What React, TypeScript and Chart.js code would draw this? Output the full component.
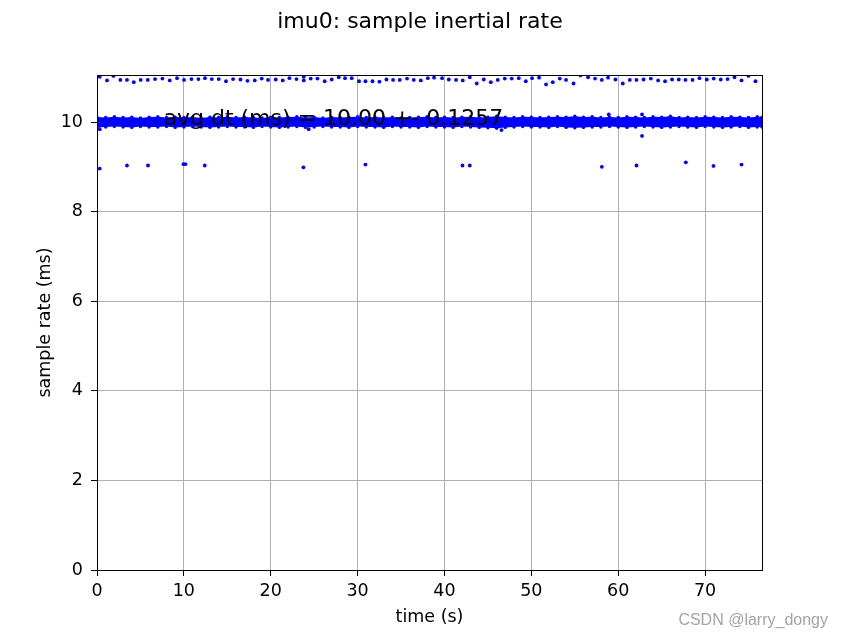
import React, { useEffect, useRef } from "react";
import { Chart, registerables } from "chart.js";

Chart.register(...registerables);

// ---- Data ----
const chartTitle = "imu0: sample inertial rate";
const xLabel = "time (s)";
const yLabel = "sample rate (ms)";
const annotationText = "avg dt (ms) = 10.00 +- 0.1257";
const annotationPos = { x: 7.65, y: 9.93 };
const watermark = "CSDN @larry_dongy";

const xMax = 76.55;
const yMax = 11.05;

// dense band of samples around 10 ms (upper / lower envelope)
const bandTimes = [
  0, 1, 2, 3, 4, 5, 6, 7, 8, 9, 10, 11, 12, 13, 14, 15, 16, 17, 18, 19,
  20, 21, 22, 23, 24, 25, 26, 27, 28, 29, 30, 31, 32, 33, 34, 35, 36, 37, 38, 39,
  40, 41, 42, 43, 44, 45, 46, 47, 48, 49, 50, 51, 52, 53, 54, 55, 56, 57, 58, 59,
  60, 61, 62, 63, 64, 65, 66, 67, 68, 69, 70, 71, 72, 73, 74, 75, 76, 76.55,
];
const bandUpper = [
  10.11, 10.10, 10.12, 10.10, 10.11, 10.09, 10.11, 10.12, 10.10, 10.11,
  10.10, 10.11, 10.09, 10.11, 10.10, 10.12, 10.10, 10.11, 10.10, 10.09,
  10.11, 10.10, 10.11, 10.12, 10.10, 10.11, 10.09, 10.11, 10.10, 10.11,
  10.12, 10.10, 10.11, 10.10, 10.11, 10.09, 10.10, 10.11, 10.12, 10.10,
  10.11, 10.10, 10.11, 10.12, 10.10, 10.11, 10.13, 10.11, 10.10, 10.12,
  10.11, 10.10, 10.11, 10.12, 10.11, 10.13, 10.11, 10.12, 10.10, 10.11,
  10.10, 10.12, 10.11, 10.10, 10.12, 10.11, 10.13, 10.10, 10.11, 10.10,
  10.12, 10.11, 10.10, 10.12, 10.11, 10.10, 10.12, 10.11,
];
const bandLower = [
  9.88, 9.89, 9.90, 9.89, 9.88, 9.90, 9.89, 9.89, 9.90, 9.88,
  9.89, 9.90, 9.89, 9.88, 9.89, 9.90, 9.89, 9.89, 9.88, 9.90,
  9.89, 9.88, 9.89, 9.90, 9.88, 9.89, 9.90, 9.89, 9.89, 9.88,
  9.90, 9.89, 9.89, 9.88, 9.90, 9.89, 9.89, 9.88, 9.90, 9.89,
  9.89, 9.88, 9.90, 9.89, 9.88, 9.87, 9.86, 9.88, 9.89, 9.90,
  9.89, 9.89, 9.88, 9.90, 9.88, 9.87, 9.88, 9.89, 9.89, 9.90,
  9.89, 9.88, 9.89, 9.90, 9.89, 9.88, 9.89, 9.90, 9.89, 9.88,
  9.90, 9.89, 9.88, 9.89, 9.90, 9.88, 9.89, 9.89,
];

// late samples (~11 ms)
const highTimes = [
  0.31, 1.15, 1.89, 2.69, 3.45, 4.23, 5.03, 5.84, 6.68, 7.53, 8.37, 9.21, 10.02, 10.87,
  11.67, 12.43, 13.21, 14.01, 14.85, 15.66, 16.51, 17.32, 18.16, 18.96, 19.69, 20.57,
  21.38, 22.15, 22.96, 23.8, 23.8, 24.6, 25.37, 26.21, 27.02, 27.83, 28.55, 29.32,
  30.16, 30.9, 31.71, 32.51, 33.32, 34.08, 34.85, 35.69, 36.46, 37.27, 38.08, 38.8,
  39.72, 40.49, 41.33, 42.1, 42.91, 43.71, 44.52, 45.33, 46.13, 46.94, 47.74, 48.55,
  49.36, 50.08, 50.89, 51.69, 52.46, 53.27, 53.99, 54.85, 55.65, 56.53, 57.33, 58.11,
  58.83, 59.68, 60.52, 61.33, 62.1, 62.91, 63.75, 64.59, 65.39, 66.2, 66.97, 67.74,
  68.55, 69.35, 70.19, 70.99, 71.8, 72.58, 73.38, 74.19, 75.0, 75.8,
];
const highValues = [
  11.01, 10.93, 11.03, 10.94, 10.94, 10.89, 10.94, 10.94, 10.96, 10.97, 10.93, 10.98, 10.94, 10.96,
  10.96, 10.98, 10.96, 10.96, 10.91, 10.96, 10.95, 10.92, 10.93, 10.97, 10.94, 10.95,
  10.93, 10.98, 10.96, 11.01, 10.93, 10.97, 10.97, 10.91, 10.95, 11.0, 10.98, 10.98,
  10.91, 10.91, 10.91, 10.9, 10.95, 10.94, 10.94, 10.97, 10.94, 10.93, 10.98, 10.99,
  10.98, 10.95, 10.94, 10.93, 11.0, 10.86, 10.95, 10.89, 10.94, 10.97, 10.97, 10.98,
  10.91, 10.98, 10.99, 10.84, 10.89, 10.97, 10.94, 10.86, 11.04, 11.0, 10.97, 10.94,
  10.99, 10.95, 10.86, 10.94, 10.94, 10.95, 10.97, 10.93, 10.91, 10.95, 10.95, 10.94,
  10.94, 10.98, 10.95, 10.97, 10.95, 10.96, 11.0, 10.93, 11.03, 10.91,
];

// early samples (~9 ms)
const lowTimes = [0.31, 3.45, 5.87, 9.95, 10.17, 12.4, 23.76, 30.9, 42.07, 42.91, 58.11, 62.1, 67.78, 70.96, 74.19];
const lowValues = [8.96, 9.03, 9.03, 9.06, 9.06, 9.03, 8.99, 9.05, 9.03, 9.03, 9.0, 9.03, 9.1, 9.02, 9.05];

// stray samples just outside the band
const strayTimes = [0.31, 24.37, 46.56, 58.91, 62.74, 62.74];
const strayValues = [9.84, 9.84, 9.82, 10.17, 10.17, 9.69];

const BLUE = "#0000ff";
const FONT = "'DejaVu Sans', sans-serif";

function pts(xs: number[], ys: number[]) {
  return xs.map((x, i) => ({ x, y: ys[i] }));
}

const textPlugin = {
  id: "textPlugin",
  afterDraw(chart: any) {
    const { ctx, chartArea, scales } = chart;
    ctx.save();
    // frame (all four spines)
    ctx.strokeStyle = "#000";
    ctx.lineWidth = 1;
    ctx.strokeRect(
      Math.round(chartArea.left) + 0.5,
      Math.round(chartArea.top) + 0.5,
      Math.round(chartArea.right - chartArea.left),
      Math.round(chartArea.bottom - chartArea.top)
    );
    ctx.fillStyle = "#000";
    // annotation
    ctx.font = `22px ${FONT}`;
    ctx.textAlign = "left";
    ctx.textBaseline = "alphabetic";
    ctx.fillText(annotationText, scales.x.getPixelForValue(annotationPos.x), scales.y.getPixelForValue(annotationPos.y));
    // title
    ctx.font = `22px ${FONT}`;
    ctx.textAlign = "center";
    ctx.fillText(chartTitle, 420, 28);
    // x label
    ctx.font = `17.5px ${FONT}`;
    ctx.fillText(xLabel, (chartArea.left + chartArea.right) / 2, 622);
    // y label
    ctx.save();
    ctx.translate(50, (chartArea.top + chartArea.bottom) / 2);
    ctx.rotate(-Math.PI / 2);
    ctx.fillText(yLabel, 0, 0);
    ctx.restore();
    // watermark
    ctx.font = `16px 'Liberation Sans', sans-serif`;
    ctx.fillStyle = "#a3a3a3";
    ctx.textAlign = "right";
    ctx.fillText(watermark, 828, 625);
    ctx.restore();
  },
};

export default function App() {
  const ref = useRef<HTMLCanvasElement | null>(null);
  useEffect(() => {
    if (!ref.current) return;
    const pointDs = (data: any) => ({
      data,
      showLine: false,
      pointRadius: 1.9,
      pointBorderWidth: 0,
      pointBackgroundColor: BLUE,
      borderColor: BLUE,
      backgroundColor: BLUE,
    });
    const chart = new Chart(ref.current, {
      type: "line",
      data: {
        datasets: [
          pointDs(pts(highTimes, highValues)),
          pointDs(pts(lowTimes, lowValues)),
          pointDs(pts(strayTimes, strayValues)),
          {
            data: pts(bandTimes, bandUpper),
            borderWidth: 0,
            borderColor: "transparent",
            pointRadius: 1.7,
            pointBorderWidth: 0,
            pointBackgroundColor: BLUE,
            fill: false,
            tension: 0,
          },
          {
            data: pts(bandTimes, bandLower),
            borderWidth: 0,
            borderColor: "transparent",
            backgroundColor: BLUE,
            pointRadius: 1.7,
            pointBorderWidth: 0,
            pointBackgroundColor: BLUE,
            fill: "-1",
            tension: 0,
          },
        ] as any,
      },
      options: {
        animation: false,
        responsive: false,
        maintainAspectRatio: false,
        events: [],
        layout: { padding: { top: 75, right: 80, left: 0, bottom: 0 } },
        plugins: { legend: { display: false }, tooltip: { enabled: false }, title: { display: false } },
        scales: {
          x: {
            type: "linear",
            min: 0,
            max: xMax,
            z: 1,
            afterFit: (s: any) => {
              s.height = 67;
            },
            ticks: {
              stepSize: 10,
              includeBounds: false,
              color: "#000",
              padding: 5,
              maxRotation: 0,
              font: { family: FONT, size: 17.5 },
            },
            grid: { color: "#b0b0b0", lineWidth: 1, tickColor: "#000", tickLength: 6 },
            border: { color: "#000", width: 1 },
          },
          y: {
            type: "linear",
            min: 0,
            max: yMax,
            z: 1,
            afterFit: (s: any) => {
              s.width = 97;
            },
            ticks: {
              stepSize: 2,
              includeBounds: false,
              color: "#000",
              padding: 8,
              font: { family: FONT, size: 17.5 },
            },
            grid: { color: "#b0b0b0", lineWidth: 1, tickColor: "#000", tickLength: 6 },
            border: { color: "#000", width: 1 },
          },
        },
      } as any,
      plugins: [textPlugin],
    });
    return () => chart.destroy();
  }, []);
  return (
    <div style={{ position: "absolute", left: 0, top: 0, width: 842, height: 637, background: "#fff" }}>
      <canvas ref={ref} width={842} height={637} style={{ display: "block", width: 842, height: 637 }} />
    </div>
  );
}
